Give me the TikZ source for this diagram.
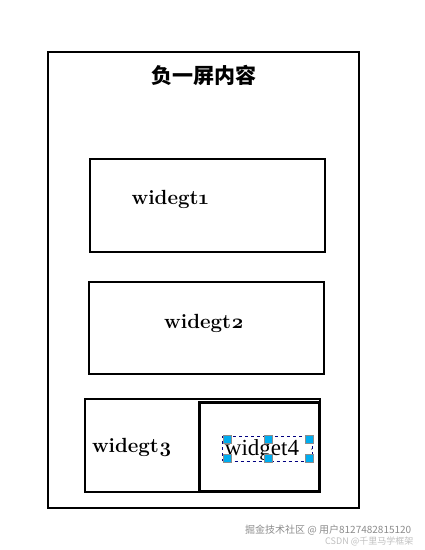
\documentclass[tikz,border=0pt]{standalone}
\usepackage{fontspec}
\setmainfont{Latin Modern Roman}[Numbers=OldStyle]
\newfontfamily\plainserif{Liberation Serif}
\newfontfamily\cjk{Noto Sans CJK SC}
\usetikzlibrary{positioning}

\begin{document}
\begin{tikzpicture}[x=1pt, y=-1pt]
\tikzstyle{panel} = [rectangle, draw=black, line width=2pt, inner sep=0pt]
\tikzstyle{widgettext} = [font=\fontsize{20.5}{22}\selectfont\bfseries, inner sep=0pt]
\tikzstyle{handle} = [rectangle, draw=black!45, fill=cyan, line width=0.3pt, minimum size=8pt, inner sep=0pt]
\tikzstyle{watermark} = [font=\cjk\fontsize{10}{12}\selectfont, inner sep=0pt, anchor=west]

\useasboundingbox (0,0) rectangle (424,550);

\node (screen) [panel, minimum width=311pt, minimum height=456pt] at (203.5,280) {};
\node (title) [font=\cjk\bfseries\fontsize{21}{24}\selectfont] at (204,75) {负一屏内容};

\node (w1) [panel, minimum width=235pt, minimum height=93pt] at (207.5,205.5) {};
\node (t1) [widgettext] at (170,199) {widegt1};

\node (w2) [panel, minimum width=235pt, minimum height=92pt] at (206.5,328) {};
\node (t2) [widgettext] at (204,323) {widegt2};

\node (w3) [panel, minimum width=235pt, minimum height=93pt] at (202.5,445.5) {};
\node (t3) [widgettext] at (132,447) {widegt3};

\node (w4) [panel, line width=3pt, minimum width=120pt, minimum height=89pt] at (259,446.5) {};
\node (sel) [rectangle, draw=blue!50!black, dashed, line width=0.6pt, minimum width=90pt, minimum height=25pt, inner sep=0pt] at (267.5,448.5) {};
\node (t4) [font=\plainserif\fontsize{23}{24}\selectfont, inner sep=0pt] at (262,450) {widget4};

% selection handles
\foreach \x in {227,268,309}
  \foreach \y in {439,458}
    \node (h-\x-\y) [handle] at (\x,\y) {};
\node (hdot) [circle, fill=black!50, minimum size=1.5pt, inner sep=0pt] at (311.5,449) {};

% watermark
\node (wm1) [watermark, text=black!45] at (245,530) {掘金技术社区 @ 用户8127482815120};
\node (wm2) [watermark, text=black!25, font=\cjk\fontsize{9}{11}\selectfont] at (325,541) {CSDN @千里马学框架};
\end{tikzpicture}
\end{document}
